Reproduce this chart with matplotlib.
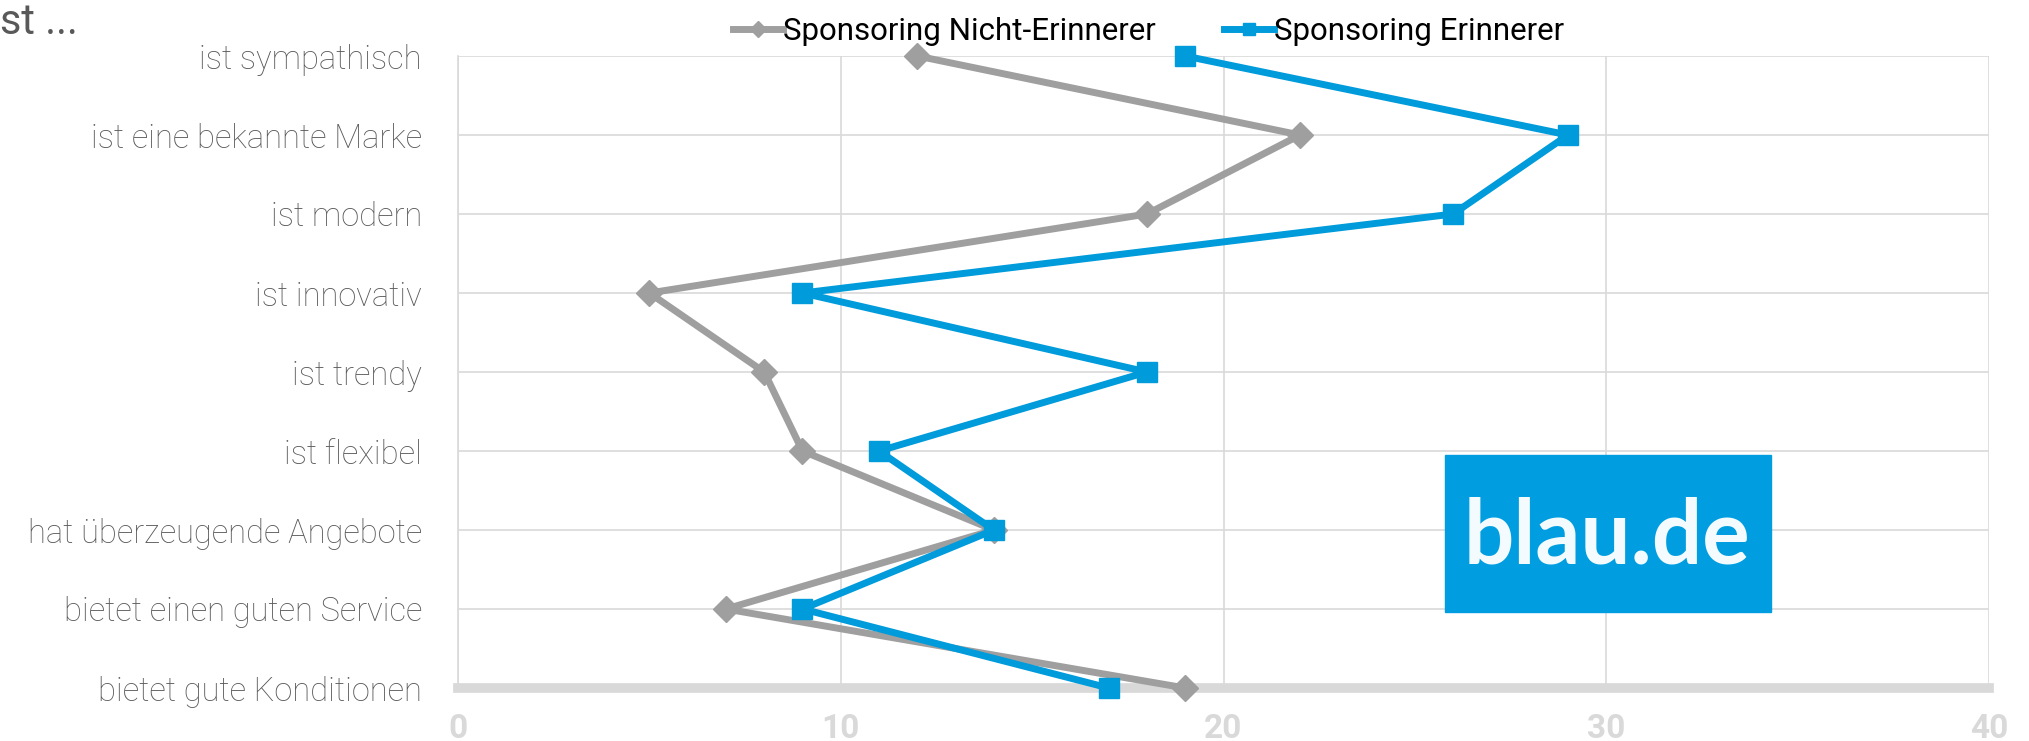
import matplotlib.pyplot as plt
from matplotlib.patches import Rectangle

categories = ['ist sympathisch', 'ist eine bekannte Marke', 'ist modern', 'ist innovativ',
              'ist trendy', 'ist flexibel', 'hat überzeugende Angebote',
              'bietet einen guten Service', 'bietet gute Konditionen']
nicht_erinnerer = [12, 22, 18, 5, 8, 9, 14, 7, 19]
erinnerer = [19, 29, 26, 9, 18, 11, 14, 9, 17]
xticks = [0, 10, 20, 30, 40]

grey = '#9f9f9f'
blue = '#009bdb'
gridc = '#d9d9d9'

plt.rcParams['font.family'] = ['Roboto', 'DejaVu Sans']

fig = plt.figure(figsize=(20.29, 7.41), dpi=100)
ax = fig.add_axes([458 / 2029, 1 - 688 / 741, (1989 - 458) / 2029, (688 - 56) / 741])

ypos = list(range(len(categories) - 1, -1, -1))

ax.plot(nicht_erinnerer, ypos, color=grey, lw=5, marker='D', ms=13,
        label='Sponsoring Nicht-Erinnerer', clip_on=False, zorder=3)
ax.plot(erinnerer, ypos, color=blue, lw=5, marker='s', ms=14,
        label='Sponsoring Erinnerer', clip_on=False, zorder=4)

ax.set_xlim(0, 40)
ax.set_ylim(0, 8)
ax.set_xticks(xticks)
ax.set_xticklabels([str(t) for t in xticks], fontsize=24, fontweight='bold', color=gridc)
ax.set_yticks(ypos)
ax.set_yticklabels(categories, fontsize=23.5, fontweight='light', color='#595959')
ax.tick_params(length=0)
ax.tick_params(axis='y', pad=26)
ax.tick_params(axis='x', pad=18)

ax.grid(True, color=gridc, lw=1.2)
ax.set_axisbelow(True)
for s in ['top', 'right']:
    ax.spines[s].set_visible(False)
ax.spines['left'].set_color(gridc)
ax.spines['left'].set_linewidth(1.2)
ax.spines['bottom'].set_color(gridc)
ax.spines['bottom'].set_linewidth(7)

leg = fig.legend(loc='upper center', bbox_to_anchor=(0.566, 1.015), ncol=2, frameon=False,
                 fontsize=22.5, handlelength=1.6, handletextpad=0.0, columnspacing=2.2,
                 markerscale=0.6)

fig.text(0.0, 0.997, 'st ...', fontsize=30, color='#595959', va='top', ha='left')

# blau.de logo
fig.patches.append(Rectangle((1445 / 2029, 1 - 612 / 741), 326 / 2029, 157 / 741,
                             transform=fig.transFigure, color='#009ee0', zorder=5))
fig.text(1607 / 2029, 1 - 537 / 741, 'blau.de', fontsize=64, fontweight='bold',
         family='Lato', color='#f4fbff', ha='center', va='center', zorder=6)

fig.savefig('out.png', dpi=100)
